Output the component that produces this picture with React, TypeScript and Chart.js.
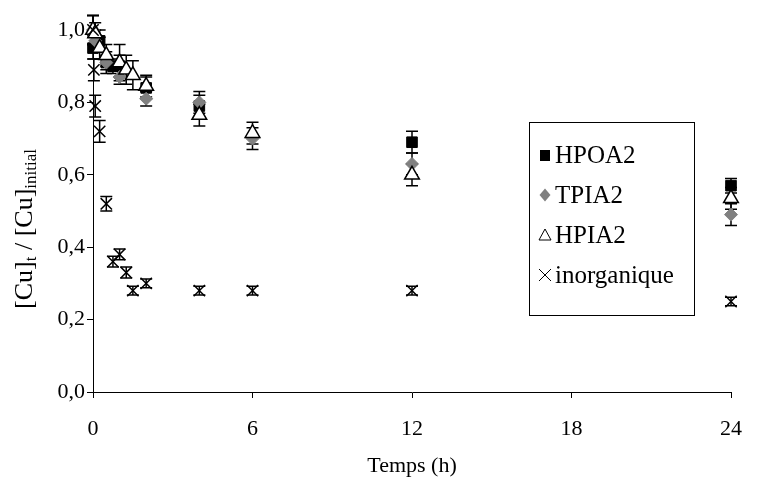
import React, { useEffect, useRef } from 'react';
import { Chart, registerables } from 'chart.js';

Chart.register(...registerables);

// ---- data (time in hours, [Cu]t/[Cu]initial) ----
const seriesLabels = ['HPOA2', 'TPIA2', 'HPIA2', 'inorganique'];

const hpoa2Times = [0, 0.25, 0.5, 0.75, 1, 2, 4, 12, 24];
const hpoa2Values = [0.95, 0.97, 0.91, 0.9, 0.9, 0.84, 0.79, 0.69, 0.57];
const hpoa2Errors = [0.03, 0.03, 0.03, 0.02, 0.03, 0.03, 0.03, 0.03, 0.02];

const tpia2Times = [0, 0.083, 0.5, 1, 2, 4, 6, 12, 24];
const tpia2Values = [1.0, 0.97, 0.91, 0.87, 0.81, 0.8, 0.7, 0.63, 0.49];
const tpia2Errors = [0.04, 0.03, 0.02, 0.02, 0.02, 0.03, 0.03, 0.03, 0.03];

const hpia2Times = [0, 0.083, 0.25, 0.5, 1, 1.25, 1.5, 2, 4, 6, 12, 24];
const hpia2Values = [1.0, 0.99, 0.95, 0.93, 0.91, 0.89, 0.875, 0.845, 0.765, 0.715, 0.6, 0.535];
const hpia2Errors = [0.04, 0.03, 0.03, 0.03, 0.05, 0.04, 0.04, 0.03, 0.03, 0.03, 0.03, 0.03];

const inorgTimes = [0, 0.033, 0.083, 0.25, 0.5, 0.75, 1, 1.25, 1.5, 2, 4, 6, 12, 24];
const inorgValues = [1.0, 0.89, 0.79, 0.72, 0.52, 0.36, 0.38, 0.33, 0.28, 0.3, 0.28, 0.28, 0.28, 0.25];
const inorgErrors = [0.04, 0.03, 0.03, 0.03, 0.02, 0.015, 0.015, 0.015, 0.012, 0.012, 0.012, 0.012, 0.012, 0.012];

const xTickValues = [0, 6, 12, 18, 24];
const yTickValues = [0, 0.2, 0.4, 0.6, 0.8, 1.0];

const FONT = '"Liberation Serif", "Times New Roman", serif';

const toPoints = (t: number[], v: number[]) => t.map((x, i) => ({ x, y: v[i] }));

const errorBarPlugin = {
  id: 'errorBars',
  beforeDatasetsDraw(chart: any) {
    const ctx = chart.ctx;
    const xs = chart.scales.x;
    const ys = chart.scales.y;
    const cap = 6;
    ctx.save();
    ctx.strokeStyle = '#000';
    ctx.lineWidth = 1.5;
    chart.data.datasets.forEach((ds: any) => {
      const errs: number[] = ds.errors || [];
      ds.data.forEach((p: any, i: number) => {
        const e = errs[i];
        if (!e) return;
        const px = xs.getPixelForValue(p.x);
        const top = ys.getPixelForValue(p.y + e);
        const bot = ys.getPixelForValue(p.y - e);
        ctx.beginPath();
        ctx.moveTo(px, top);
        ctx.lineTo(px, bot);
        ctx.moveTo(px - cap, top);
        ctx.lineTo(px + cap, top);
        ctx.moveTo(px - cap, bot);
        ctx.lineTo(px + cap, bot);
        ctx.stroke();
      });
    });
    ctx.restore();
  },
};

const annotationPlugin = {
  id: 'customText',
  afterDraw(chart: any) {
    const ctx = chart.ctx;
    const area = chart.chartArea;
    ctx.save();
    ctx.fillStyle = '#000';

    // x axis title
    ctx.font = `22px ${FONT}`;
    ctx.textAlign = 'center';
    ctx.textBaseline = 'middle';
    ctx.fillText('Temps (h)', (area.left + area.right) / 2, 466);

    // y axis title with subscripts
    const mainFont = `26px ${FONT}`;
    const subFont = `17px ${FONT}`;
    const parts: [string, boolean][] = [
      ['[Cu]', false],
      ['t', true],
      [' / [Cu]', false],
      ['initial', true],
    ];
    let total = 0;
    parts.forEach(([s, sub]) => {
      ctx.font = sub ? subFont : mainFont;
      total += ctx.measureText(s).width;
    });
    ctx.translate(23, 229);
    ctx.rotate(-Math.PI / 2);
    ctx.textAlign = 'left';
    ctx.textBaseline = 'alphabetic';
    let cx = -total / 2;
    parts.forEach(([s, sub]) => {
      ctx.font = sub ? subFont : mainFont;
      ctx.fillText(s, cx, sub ? 13 : 9);
      cx += ctx.measureText(s).width;
    });
    ctx.setTransform(1, 0, 0, 1, 0, 0);

    // legend
    const bx = 529.5, by = 122.5, bw = 165, bh = 193;
    ctx.strokeStyle = '#000';
    ctx.lineWidth = 1;
    ctx.strokeRect(bx, by, bw, bh);
    const rows = [155, 195, 235, 275];
    const sx = 545;
    ctx.font = `25px ${FONT}`;
    ctx.textAlign = 'left';
    ctx.textBaseline = 'middle';
    chart.data.datasets.forEach((ds: any, i: number) => {
      const y = rows[i];
      ctx.save();
      if (i === 0) {
        ctx.fillStyle = '#000';
        ctx.fillRect(sx - 5, y - 5, 10, 11);
      } else if (i === 1) {
        ctx.fillStyle = '#808080';
        ctx.beginPath();
        ctx.moveTo(sx, y - 6.5);
        ctx.lineTo(sx + 5.5, y);
        ctx.lineTo(sx, y + 6.5);
        ctx.lineTo(sx - 5.5, y);
        ctx.closePath();
        ctx.fill();
      } else if (i === 2) {
        ctx.strokeStyle = '#000';
        ctx.lineWidth = 1;
        ctx.beginPath();
        ctx.moveTo(sx, y - 6);
        ctx.lineTo(sx + 6, y + 5);
        ctx.lineTo(sx - 6, y + 5);
        ctx.closePath();
        ctx.stroke();
      } else {
        ctx.strokeStyle = '#000';
        ctx.lineWidth = 1;
        ctx.beginPath();
        ctx.moveTo(sx - 6, y - 6);
        ctx.lineTo(sx + 6, y + 6);
        ctx.moveTo(sx + 6, y - 6);
        ctx.lineTo(sx - 6, y + 6);
        ctx.stroke();
      }
      ctx.restore();
      ctx.fillStyle = '#000';
      ctx.fillText(ds.label, 555, y + 1);
    });
    ctx.restore();
  },
};

export default function App() {
  const canvasRef = useRef<HTMLCanvasElement | null>(null);

  useEffect(() => {
    if (!canvasRef.current) return;
    const common = { showLine: false, clip: false as any };
    const chart = new Chart(canvasRef.current, {
      type: 'scatter',
      data: {
        datasets: [
          {
            ...common,
            label: seriesLabels[0],
            data: toPoints(hpoa2Times, hpoa2Values),
            errors: hpoa2Errors,
            pointStyle: 'rect',
            pointRadius: 7.5,
            backgroundColor: '#000',
            borderColor: '#000',
            borderWidth: 1,
            order: 4,
          } as any,
          {
            ...common,
            label: seriesLabels[1],
            data: toPoints(tpia2Times, tpia2Values),
            errors: tpia2Errors,
            pointStyle: 'rectRot',
            pointRadius: 6.5,
            backgroundColor: '#808080',
            borderColor: '#808080',
            borderWidth: 1,
            order: 3,
          } as any,
          {
            ...common,
            label: seriesLabels[2],
            data: toPoints(hpia2Times, hpia2Values),
            errors: hpia2Errors,
            pointStyle: 'triangle',
            pointRadius: 8.5,
            backgroundColor: '#fff',
            borderColor: '#000',
            borderWidth: 1.5,
            order: 2,
          } as any,
          {
            ...common,
            label: seriesLabels[3],
            data: toPoints(inorgTimes, inorgValues),
            errors: inorgErrors,
            pointStyle: 'crossRot',
            pointRadius: 8,
            backgroundColor: '#000',
            borderColor: '#000',
            borderWidth: 1.5,
            order: 1,
          } as any,
        ],
      },
      options: {
        animation: false,
        responsive: false,
        events: [],
        layout: { padding: { left: 0, right: 17, top: 30, bottom: 0 } },
        plugins: {
          legend: { display: false },
          tooltip: { enabled: false },
          title: { display: false },
        },
        scales: {
          x: {
            type: 'linear',
            min: 0,
            max: 24,
            afterFit: (s: any) => {
              s.height = 87;
            },
            afterBuildTicks: (s: any) => {
              s.ticks = xTickValues.map((value) => ({ value }));
            },
            border: { display: true, color: '#000', width: 1 },
            grid: {
              display: true,
              drawOnChartArea: false,
              drawTicks: true,
              tickLength: 6,
              color: '#000',
            },
            ticks: {
              color: '#000',
              font: { family: FONT, size: 22 },
              padding: 18,
              maxRotation: 0,
              callback: (v: any) => String(v),
            },
          },
          y: {
            type: 'linear',
            min: 0,
            max: 1.0,
            afterFit: (s: any) => {
              s.width = 93;
            },
            afterBuildTicks: (s: any) => {
              s.ticks = yTickValues.map((value) => ({ value }));
            },
            border: { display: true, color: '#000', width: 1 },
            grid: {
              display: true,
              drawOnChartArea: false,
              drawTicks: true,
              tickLength: 6,
              color: '#000',
            },
            ticks: {
              color: '#000',
              font: { family: FONT, size: 22 },
              padding: 2,
              callback: (v: any) => Number(v).toFixed(1).replace('.', ','),
            },
          },
        },
      },
      plugins: [errorBarPlugin, annotationPlugin],
    } as any);
    return () => chart.destroy();
  }, []);

  return (
    <div style={{ position: 'fixed', left: 0, top: 0, width: 760, height: 479, background: '#fff' }}>
      <canvas ref={canvasRef} width={760} height={479} style={{ display: 'block', width: 760, height: 479 }} />
    </div>
  );
}
